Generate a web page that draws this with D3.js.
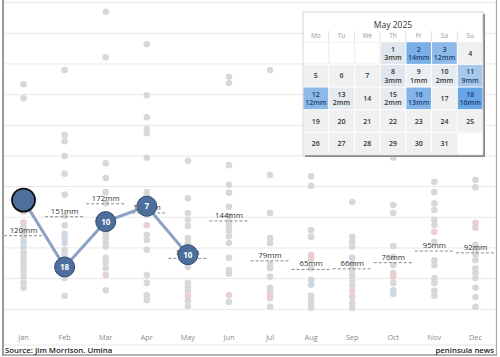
<!DOCTYPE html>
<html><head><meta charset="utf-8">
<script src="https://cdn.jsdelivr.net/npm/d3@7"></script>
<style>
body{margin:0;background:#fff;}
svg{display:block;font-family:"Open Sans","Noto Sans",sans-serif;}
</style></head>
<body><svg id="c" width="500" height="357"></svg>
<script>
const months = ["Jan","Feb","Mar","Apr","May","Jun","Jul","Aug","Sep","Oct","Nov","Dec"];
const avgTotals = [120,151,172,157,83,144,79,65,66,76,95,92];
const totals2025 = [178,69,143,168,89];
const rainDays2025 = ["","18","10","7","10"];

const histJan = [367,344,173,167,159,134,126,118,93,85,77,69,61,53,43,35];
const histFeb = [390,284,274,250,221,187,152,137,97,90,80,69,51,22];
const histMar = [485,411,238,214,191,173,129,123,116,108,102,84,76,67,31];
const histApr = [432,349,313,294,287,247,191,185,154,121,113,97,56,43,23,15];
const histMay = [242,181,157,146,136,116,108,69,43,36,30,14,5];
const histJun = [379,369,235,203,190,167,152,142,134,128,119,108,84,64,58,12];
const histJul = [390,219,157,116,108,74,67,53,35,28,4];
const histAug = [217,201,129,118,67,22,15,9,2];
const histSep = [175,118,110,102,74,64,56,48,40,10,2];
const histOct = [247,170,157,103,85,72,43];
const histNov = [208,191,173,162,146,137,110,80,72,51,43,30,22];
const histDec = [211,199,105,97,89,80,67,59,51,35,20,4];
const pinkDots = [["Jan",142],["Mar",56],["Apr",137],["May",22],["Jun",23],["Jul",23],["Jul",18],["Aug",89],["Aug",82],["Sep",30],["Sep",20],["Oct",59],["Oct",53],["Nov",126],["Dec",141],["Dec",133]];
const blueDots = [["Jan",110],["Jan",102],["Feb",123],["Feb",115],["Feb",108],["Aug",48],["Aug",40],["Sep",84],["Oct",31],["Oct",25]];

const calTitle = "May 2025";
const weekDays = ["Mo","Tu","We","Th","Fr","Sa","Su"];
const firstWeekday = 3; // Thursday
const daysInMonth = 31;
const rainDates = [1,2,3,8,9,10,11,12,13,15,16,18];
const rainMm = [3,14,12,3,1,2,9,12,2,2,13,16];

const svg = d3.select("#c");
const x = d3.scaleBand().domain(months).range([3,496]);
const y = d3.scaleLinear().domain([0,500]).range([309.3,2.6]);

// gridlines
svg.append("g").selectAll("line").data(d3.range(0,501,50)).join("line")
  .attr("x1",3).attr("x2",496).attr("y1",d=>y(d)).attr("y2",d=>y(d))
  .attr("stroke","#e8e8e8").attr("stroke-width",1);
svg.append("line").attr("x1",3).attr("x2",496).attr("y1",345).attr("y2",345).attr("stroke","#e6e6e6");

// dots
const hist = [histJan,histFeb,histMar,histApr,histMay,histJun,histJul,histAug,histSep,histOct,histNov,histDec];
const dotData = [];
hist.forEach((arr,i)=>arr.forEach(v=>dotData.push({m:months[i],v,c:"#d8d8d8"})));
pinkDots.forEach(([m,v])=>dotData.push({m,v,c:"#e6d0d0"}));
blueDots.forEach(([m,v])=>dotData.push({m,v,c:"#cfd8e2"}));
svg.append("g").selectAll("circle").data(dotData).join("circle")
  .attr("cx",d=>x(d.m)+x.bandwidth()/2).attr("cy",d=>y(d.v)).attr("r",3.3)
  .attr("fill",d=>d.c);

// average dashed lines & labels
const avgG = svg.append("g");
avgG.selectAll("line").data(avgTotals).join("line")
  .attr("x1",(d,i)=>x(months[i])+1).attr("x2",(d,i)=>x(months[i])+x.bandwidth()-1)
  .attr("y1",d=>y(d)).attr("y2",d=>y(d))
  .attr("stroke","#8a8a8a").attr("stroke-width",1).attr("stroke-dasharray","3,2");
avgG.selectAll("text").data(avgTotals).join("text")
  .attr("x",(d,i)=>x(months[i])+x.bandwidth()/2).attr("y",d=>y(d)-3)
  .attr("text-anchor","middle").attr("font-size",7.8).attr("fill","#333")
  .text(d=>d+"mm");

// 2025 line
const m25 = totals2025.map((v,i)=>({m:months[i],v,l:rainDays2025[i],i}));
svg.append("path").datum(m25)
  .attr("d",d3.line().x(d=>x(d.m)+x.bandwidth()/2).y(d=>y(d.v)))
  .attr("fill","none").attr("stroke","#8ba3c2").attr("stroke-width",3);
svg.append("g").selectAll("circle").data(m25).join("circle")
  .attr("cx",d=>x(d.m)+x.bandwidth()/2).attr("cy",d=>y(d.v))
  .attr("r",d=>d.i===0?11.5:10)
  .attr("fill","#4e6f9c").attr("stroke",d=>d.i===0?"#111":"#2d4a72")
  .attr("stroke-width",d=>d.i===0?1.8:1);
svg.append("g").selectAll("text").data(m25).join("text")
  .attr("x",d=>x(d.m)+x.bandwidth()/2).attr("y",d=>y(d.v)+3)
  .attr("text-anchor","middle").attr("font-size",8).attr("font-weight","bold")
  .attr("fill","#fff").text(d=>d.l);

// month axis
const ax = svg.append("g").attr("transform","translate(0,333)")
  .call(d3.axisBottom(x).tickSize(0).tickPadding(2));
ax.select(".domain").remove();
ax.selectAll("text").attr("font-size",7.3).attr("fill","#8a8a8a").attr("font-family","Open Sans, sans-serif");

// frame
svg.append("line").attr("x1",3).attr("x2",3).attr("y1",0).attr("y2",356).attr("stroke","#9a9a9a").attr("stroke-width",2);
svg.append("line").attr("x1",496.5).attr("x2",496.5).attr("y1",0).attr("y2",356).attr("stroke","#aaa").attr("stroke-width",1.2);
svg.append("line").attr("x1",3).attr("x2",497).attr("y1",355).attr("y2",355).attr("stroke","#9a9a9a").attr("stroke-width",1.5);

// footer
svg.append("text").attr("x",5).attr("y",352.5).attr("font-size",7.8).attr("font-weight",600).attr("fill","#222").text("Source: Jim Morrison. Umina");
svg.append("text").attr("x",494).attr("y",352.5).attr("text-anchor","end").attr("font-size",7.8).attr("font-weight",600).attr("fill","#222").text("peninsula news");

// calendar
const cx0 = 303, cy0 = 12, cw = 180, ch = 143;
const colW = cw/7, hdrTop = 30, gridTop = 41.7, rowH = (155-41.7)/5;
const cal = svg.append("g");
cal.append("rect").attr("x",cx0+2).attr("y",cy0+2).attr("width",cw).attr("height",ch).attr("fill","#8a8a8a");
cal.append("rect").attr("x",cx0).attr("y",cy0).attr("width",cw).attr("height",ch).attr("fill","#fff").attr("stroke","#c8c8c8").attr("stroke-width",0.8);
cal.append("text").attr("x",cx0+cw/2).attr("y",cy0+16).attr("text-anchor","middle").attr("font-size",8.5).attr("fill","#333").text(calTitle);
const cx = d3.scaleBand().domain(weekDays).range([cx0,cx0+cw]);
cal.selectAll(".wd").data(weekDays).join("text").attr("class","wd")
  .attr("x",d=>cx(d)+colW/2).attr("y",hdrTop+8).attr("text-anchor","middle")
  .attr("font-size",6.5).attr("fill","#9a9a9a").text(d=>d);
cal.selectAll(".sep").data(weekDays.slice(1)).join("line").attr("class","sep")
  .attr("x1",d=>cx(d)).attr("x2",d=>cx(d)).attr("y1",hdrTop+1).attr("y2",gridTop)
  .attr("stroke","#e0e0e0");
const rainMap = new Map(rainDates.map((d,i)=>[d,rainMm[i]]));
const color = d3.scaleLinear().domain([0,1,3,16]).range(["#f0f0f0","#edf0f2","#dfe6ee","#68a5e7"]);
const cells = [];
for(let k=0;k<35;k++){
  const day = k-firstWeekday+1;
  cells.push({col:k%7,row:Math.floor(k/7),day:(day>=1&&day<=daysInMonth)?day:null});
}
const cg = cal.selectAll(".cell").data(cells).join("g").attr("class","cell")
  .attr("transform",d=>`translate(${cx0+d.col*colW},${gridTop+d.row*rowH})`);
cg.append("rect").attr("x",0.5).attr("y",0.5).attr("width",colW-1).attr("height",rowH-1)
  .attr("fill",d=>d.day===null?"#fff":(rainMap.has(d.day)?color(rainMap.get(d.day)):"#f0f0f0"))
  .attr("stroke",d=>d.day===null?"#ececec":"none").attr("stroke-width",0.6);
cg.filter(d=>d.day!==null).append("text")
  .attr("x",colW/2).attr("y",d=>rainMap.has(d.day)?rowH/2-1.5:rowH/2+2.5)
  .attr("text-anchor","middle").attr("font-size",7).attr("font-weight",600)
  .attr("fill",d=>rainMap.has(d.day)&&rainMap.get(d.day)>5?"#1d3f6e":"#333")
  .text(d=>d.day);
cg.filter(d=>d.day!==null&&rainMap.has(d.day)).append("text")
  .attr("x",colW/2).attr("y",rowH/2+7)
  .attr("text-anchor","middle").attr("font-size",7).attr("font-weight",600)
  .attr("fill",d=>rainMap.get(d.day)>5?"#1d3f6e":"#333")
  .text(d=>rainMap.get(d.day)+"mm");
</script></body></html>
